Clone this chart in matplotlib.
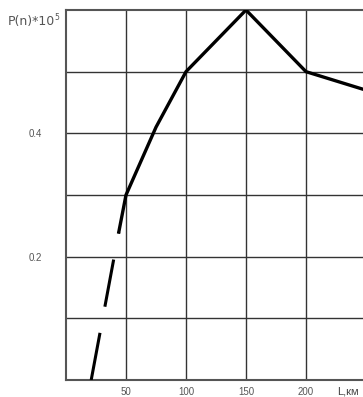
import matplotlib.pyplot as plt

# curve P(n)*10^5 vs L, km
dash_L = [21, 44]
dash_P = [0.0, 0.24]
solid_L = [44, 50, 75, 100, 150, 200, 250]
solid_P = [0.24, 0.30, 0.41, 0.50, 0.60, 0.50, 0.47]

xticks = [50, 100, 150, 200]
yticks = [0.2, 0.4]
grid_y = [0.1, 0.2, 0.3, 0.4, 0.5]

plt.rcParams['font.family'] = ['Liberation Sans', 'DejaVu Sans']

fig = plt.figure(figsize=(3.63, 3.97), dpi=100)
ax = fig.add_axes([66/363, 17/397, 297/363, 370/397])
ax.set_xlim(0, 247.5)
ax.set_ylim(0, 0.6)

for x in xticks:
	ax.axvline(x, color='#333333', lw=1.0, zorder=1)
for y in grid_y:
	ax.axhline(y, color='#333333', lw=1.0, zorder=1)

ax.plot(dash_L, dash_P, color='black', lw=2.2, dashes=(15.7, 8.7), solid_capstyle='butt', zorder=3)
ax.plot(solid_L, solid_P, color='black', lw=2.4, solid_joinstyle='miter', zorder=3)

for s in ['left', 'bottom', 'top']:
	ax.spines[s].set_color('#555555')
	ax.spines[s].set_linewidth(1.5)
ax.spines['right'].set_visible(False)

ax.set_xticks(xticks)
ax.set_xticklabels([str(v) for v in xticks])
ax.set_yticks(yticks)
ax.set_yticklabels([str(v) for v in yticks])
ax.tick_params(length=0, labelsize=7, labelcolor='#555555', pad=5)
ax.tick_params(axis='y', pad=17)

fig.text(8/363, 1-21/397, 'P(n)*10', fontsize=9, family='DejaVu Sans', color='#555555', va='center', ha='left')
fig.text(54.5/363, 1-18/397, '5', fontsize=5.5, family='DejaVu Sans', color='#555555', va='center', ha='left')
fig.text(337/363, 1-392/397, 'L,км', fontsize=8, color='#444444', va='center', ha='left')

plt.savefig('out.png', dpi=100)
